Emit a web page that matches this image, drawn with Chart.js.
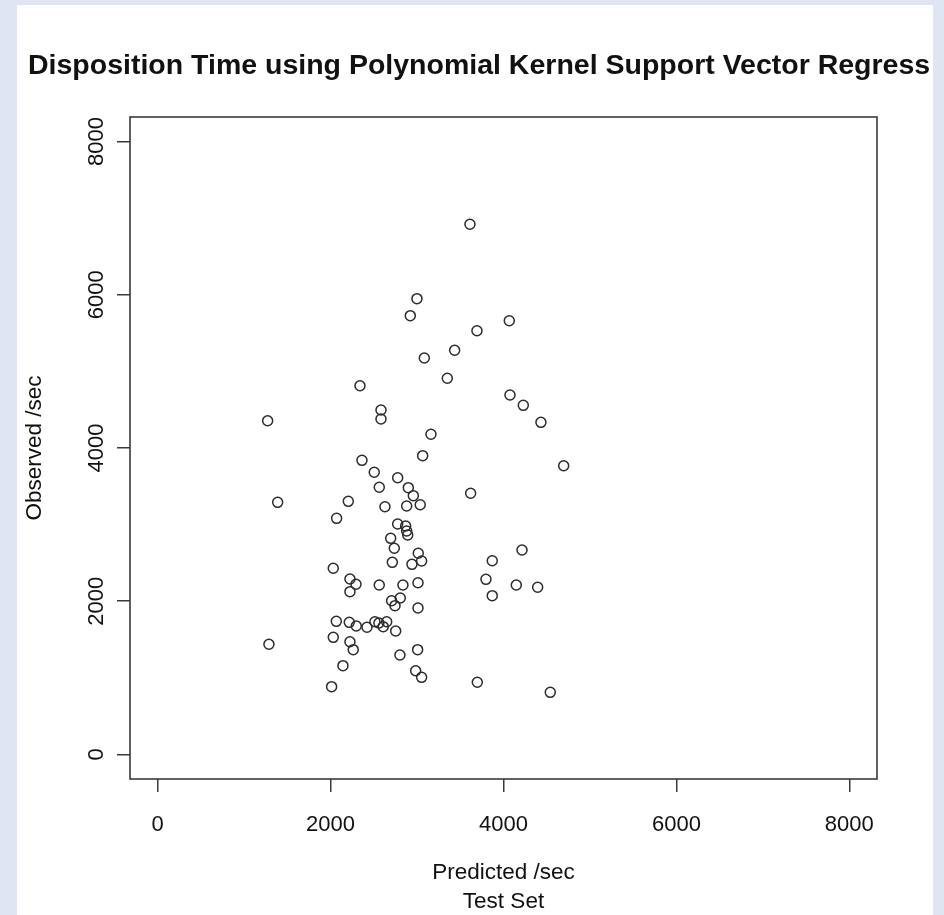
<!DOCTYPE html>
<html>
<head>
<meta charset="utf-8">
<script src="https://cdn.jsdelivr.net/npm/chart.js@4"></script>
<style>
  body { margin: 0; background: #dfe5f2; width: 944px; height: 915px; overflow: hidden; }
  #sheet { position: absolute; left: 17px; top: 5px; width: 916px; height: 910px; background: #fff; }
</style>
</head>
<body>
<div id="sheet"><canvas id="chart"></canvas></div>
<script>
// predicted vs observed, test set (seconds)
let predicted = [
  1272, 2583, 2583, 3161, 3065, 2363, 2505, 2776, 2563, 2899,
  2957, 3620, 1388, 2205, 2629, 2880, 3037, 2070, 2776, 2868,
  2880, 2892, 2695, 2737, 3014, 3053, 2714, 2941, 2031, 2224,
  2294, 2224, 2563, 2837, 3011, 2706, 2806, 2745, 3011, 2066,
  2216, 2297, 2421, 2513, 2649, 2609, 2753, 2031, 2224, 2262,
  1287, 2802, 3007, 2143, 2984, 3053, 2012, 3697, 3870, 4214,
  3797, 3870, 4148, 4395, 4541, 3612, 2999, 2922, 4067, 3693,
  3435, 3084, 3350, 4075, 4229, 4433, 4696, 2340, 2559
];
let observed = [
  4356, 4496, 4378, 4179, 3900, 3839, 3683, 3612, 3487, 3482,
  3378, 3409, 3291, 3304, 3234, 3243, 3260, 3082, 3008, 2982,
  2917, 2865, 2821, 2691, 2626, 2525, 2508, 2482, 2430, 2290,
  2221, 2125, 2212, 2212, 2242, 2007, 2042, 1942, 1912, 1738,
  1725, 1677, 1660, 1733, 1733, 1668, 1612, 1529, 1472, 1368,
  1438, 1298, 1368, 1159, 1093, 1007, 885, 942, 2529, 2669,
  2286, 2073, 2212, 2182, 811, 6920, 5949, 5727, 5661, 5531,
  5275, 5175, 4910, 4692, 4557, 4335, 3769, 4813, 1716
];
let tickValues = [0, 2000, 4000, 6000, 8000];
let axisMin = -320;
let axisMax = 8320;

let points = predicted.map((p, i) => ({ x: p, y: observed[i] }));
let fontName = "Liberation Sans, Arial, sans-serif";

// box round the plot region, like R's bty="o"
let frame = {
  id: "frame",
  afterDraw(chart) {
    let a = chart.chartArea;
    let ctx = chart.ctx;
    ctx.save();
    ctx.strokeStyle = "#3a3a3a";
    ctx.lineWidth = 1.6;
    ctx.strokeRect(a.left, a.top, a.right - a.left, a.bottom - a.top);
    ctx.restore();
  }
};

function fixTicks(scale) {
  scale.ticks = tickValues.map(v => ({ value: v }));
}

let myChart = new Chart(document.getElementById("chart"), {
  type: "scatter",
  data: {
    datasets: [{
      data: points,
      pointStyle: "circle",
      pointRadius: 5,
      pointHoverRadius: 5,
      borderWidth: 1.5,
      borderColor: "#2b2b2b",
      backgroundColor: "rgba(0,0,0,0)"
    }]
  },
  options: {
    responsive: true,
    maintainAspectRatio: false,
    animation: false,
    layout: { padding: { left: 11, right: 0, top: 0, bottom: 0 } },
    plugins: {
      legend: { display: false },
      tooltip: { enabled: false },
      title: {
        display: true,
        text: "Disposition Time using Polynomial Kernel Support Vector Regress",
        align: "start",
        color: "#111",
        font: { family: fontName, size: 28.5, weight: "bold", lineHeight: 1.2 },
        padding: { top: 43.9, bottom: 33.9 }
      }
    },
    scales: {
      x: {
        type: "linear",
        min: axisMin,
        max: axisMax,
        afterBuildTicks: fixTicks,
        afterFit(scale) { scale.height = 136; },
        border: { display: false },
        grid: { display: true, drawOnChartArea: false, drawTicks: true, tickLength: 13, color: "#3a3a3a", lineWidth: 1.5 },
        ticks: {
          color: "#111",
          padding: 20,
          callback: v => String(v),
          font: { family: fontName, size: 22 }
        },
        title: {
          display: true,
          text: ["Predicted /sec", "Test Set"],
          color: "#111",
          font: { family: fontName, size: 22.5, lineHeight: 1.29 },
          padding: { top: 0, bottom: -1.5 }
        }
      },
      y: {
        type: "linear",
        min: axisMin,
        max: axisMax,
        afterBuildTicks: fixTicks,
        afterFit(scale) { scale.width = 102; },
        border: { display: false },
        grid: { display: true, drawOnChartArea: false, drawTicks: true, tickLength: 13, color: "#3a3a3a", lineWidth: 1.5 },
        ticks: {
          color: "#111",
          padding: -4.5,
          minRotation: 90,
          maxRotation: 90,
          crossAlign: "center",
          callback: v => String(v),
          font: { family: fontName, size: 22 }
        },
        title: {
          display: true,
          text: "Observed /sec",
          color: "#111",
          font: { family: fontName, size: 22.5, lineHeight: 1.2 },
          padding: { top: -6.5, bottom: 0 }
        }
      },
      // empty right margin so the title box can run past the plot
      yMargin: {
        type: "linear",
        position: "right",
        min: axisMin,
        max: axisMax,
        afterFit(scale) { scale.width = 56; },
        border: { display: false },
        grid: { display: false },
        ticks: { display: false }
      }
    }
  },
  plugins: [frame]
});
</script>
</body>
</html>
